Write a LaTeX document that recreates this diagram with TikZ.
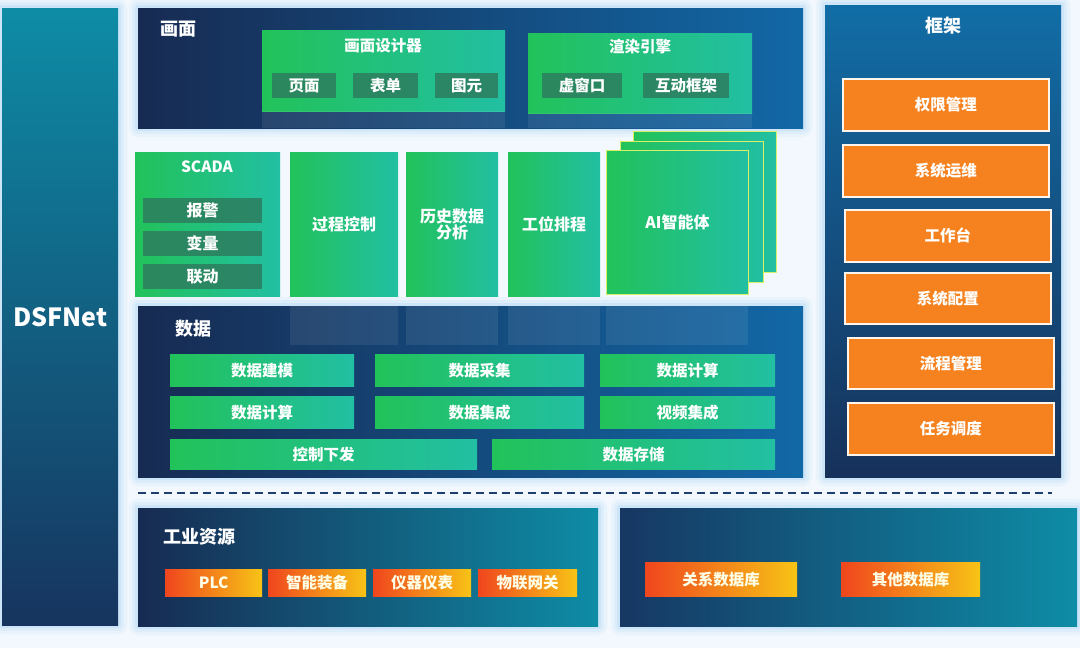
\documentclass[tikz,border=0pt]{standalone}
\usepackage{fontspec}
\setmainfont{Noto Sans CJK SC}
\definecolor{navy}{HTML}{172B52}
\definecolor{pblue}{HTML}{1268A6}
\definecolor{pteal}{HTML}{0E8CA6}
\definecolor{gA}{HTML}{22C25A}
\definecolor{gB}{HTML}{22BFA3}
\definecolor{dkg}{HTML}{2C7D5E}
\definecolor{org}{HTML}{F5821F}
\definecolor{oA}{HTML}{F0461E}
\definecolor{oB}{HTML}{F7C416}
\definecolor{bg}{HTML}{F2F8FD}
\definecolor{glowc}{HTML}{A9D4F5}
\definecolor{cardline}{HTML}{D6F06A}
\definecolor{dashc}{HTML}{1E3F6E}
\newcommand\bx[7]{\node[#2,anchor=north west,minimum width=#5pt,minimum height=#6pt,inner sep=0pt] (#1) at (#3,#4) {#7};}
\newcommand\glw[4]{\foreach \g/\o in {9/0.12,6/0.18,3/0.3}{\fill[glowc,opacity=\o,rounded corners=\g pt] (#1-\g,#2-\g) rectangle (#3+\g,#4+\g);}}
\begin{document}
\begin{tikzpicture}[x=1pt,y=-1pt,
  every node/.style={font=\fontsize{15.5}{18}\selectfont\bfseries,text=white},
  panelh/.style={left color=navy,right color=pblue},
  panelv/.style={top color=pblue!85!pteal,bottom color=navy!90!pblue},
  col/.style={top color=pteal,bottom color=navy!85!pblue},
  gbox/.style={left color=gA,right color=gB},
  big/.style={font=\fontsize{16}{19}\selectfont\bfseries},
  sub/.style={fill=dkg,fill opacity=0.85,text opacity=1},
  card/.style={gbox,draw=cardline,line width=1pt},
  obox/.style={fill=org,draw=white!92!org,line width=1.5pt},
  ybox/.style={left color=oA,right color=oB,text=white!90!yellow},
  lbl/.style={font=\fontsize{18}{20}\selectfont\bfseries},
  refl/.style={fill=white,opacity=0.08}]
\useasboundingbox (0,0) rectangle (1080,648);
\fill[bg] (0,0) rectangle (1080,648);
% glows
\glw{2}{8}{118}{625}
\glw{138}{8}{803}{128}
\glw{138}{306}{803}{477}
\glw{825}{5}{1061}{477}
\glw{138}{508}{598}{626}
\glw{620}{508}{1077}{626}
% DSFNet
\bx{dsf}{col}{2}{8}{116}{617}{\fontsize{25}{28}\selectfont\bfseries DSFNet}
% 画面 panel
\bx{hm}{panelh}{138}{8}{665}{120}{}
\node[lbl] (lhm) at (178,29) {画面};
\bx{sjq}{gbox}{262}{30}{243}{81}{}
\node (tsjq) at (383,46) {画面设计器};
\bx{ym}{sub}{272}{73}{64}{25}{页面}
\bx{bd}{sub}{353}{73}{65}{25}{表单}
\bx{ty}{sub}{435}{73}{63}{25}{图元}
\bx{xr}{gbox}{528}{33}{224}{80}{}
\node (txr) at (640,47) {渲染引擎};
\bx{xck}{sub}{542}{73}{80}{25}{虚窗口}
\bx{hdkj}{sub}{643}{73}{86}{25}{互动框架}
\fill[refl] (262,111) rectangle (505,128);
\fill[refl] (528,113) rectangle (752,128);
% 数据 panel
\bx{sj}{panelh}{138}{306}{665}{171}{}
\fill[refl] (290,306) rectangle (398,345);
\fill[refl] (406,306) rectangle (498,345);
\fill[refl] (508,306) rectangle (600,345);
\fill[refl] (606,306) rectangle (748,345);
\node[lbl] (lsj) at (193,329) {数据};
\bx{d1}{gbox}{170}{354}{184}{32}{数据建模}
\bx{d2}{gbox}{375}{354}{209}{32}{数据采集}
\bx{d3}{gbox}{600}{354}{175}{32}{数据计算}
\bx{d4}{gbox}{170}{396}{184}{32}{数据计算}
\bx{d5}{gbox}{375}{396}{209}{32}{数据集成}
\bx{d6}{gbox}{600}{396}{175}{32}{视频集成}
\bx{d7}{gbox}{170}{439}{307}{30}{控制下发}
\bx{d8}{gbox}{492}{439}{283}{30}{数据存储}
% middle row
\bx{scada}{gbox}{135}{152}{145}{144}{}
\node (tscada) at (207,167) {SCADA};
\bx{bj}{sub,big}{143}{198}{119}{25}{报警}
\bx{bl}{sub,big}{143}{231}{119}{25}{变量}
\bx{ld}{sub,big}{143}{264}{119}{25}{联动}
\bx{gckz}{gbox,big}{290}{152}{108}{144}{过程控制}
\bx{lsfx}{gbox,big,align=center}{406}{152}{92}{144}{历史数据\\[-3pt]分析}
\bx{gwpc}{gbox,big}{508}{152}{92}{144}{工位排程}
\bx{ai3}{card}{633}{131}{143}{141}{}
\bx{ai2}{card}{620}{141}{143}{141}{}
\bx{ai1}{card,big}{606}{150}{142}{144}{AI智能体}
% 框架 panel
\bx{kj}{panelv}{825}{5}{236}{472}{}
\node[lbl] (lkj) at (943,26) {框架};
\bx{k1}{obox}{842}{78}{206}{52}{权限管理}
\bx{k2}{obox}{842}{144}{206}{52}{系统运维}
\bx{k3}{obox}{844}{209}{206}{52}{工作台}
\bx{k4}{obox}{844}{272}{206}{51}{系统配置}
\bx{k5}{obox}{847}{337}{206}{51}{流程管理}
\bx{k6}{obox}{847}{402}{206}{52}{任务调度}
% dashed line
\coordinate (dl) at (138,493);
\coordinate (dr) at (1052,493);
\draw[dashc,line width=2.5pt,dash pattern=on 8pt off 5pt] (dl) -- (dr);
% 工业资源
\bx{gy}{left color=navy,right color=pteal}{138}{508}{460}{118}{}
\node[lbl] (lgy) at (199,537) {工业资源};
\bx{plc}{ybox}{165}{569}{97}{27}{PLC}
\bx{znzb}{ybox}{268}{569}{98}{27}{智能装备}
\bx{yqyb}{ybox}{373}{569}{98}{27}{仪器仪表}
\bx{wlwg}{ybox}{478}{569}{99}{27}{物联网关}
% 数据库
\bx{db}{left color=navy!80!pblue,right color=pteal}{620}{508}{457}{118}{}
\bx{gxsjk}{ybox}{645}{562}{152}{34}{关系数据库}
\bx{qtsjk}{ybox}{841}{562}{139}{34}{其他数据库}
\end{tikzpicture}
\end{document}
